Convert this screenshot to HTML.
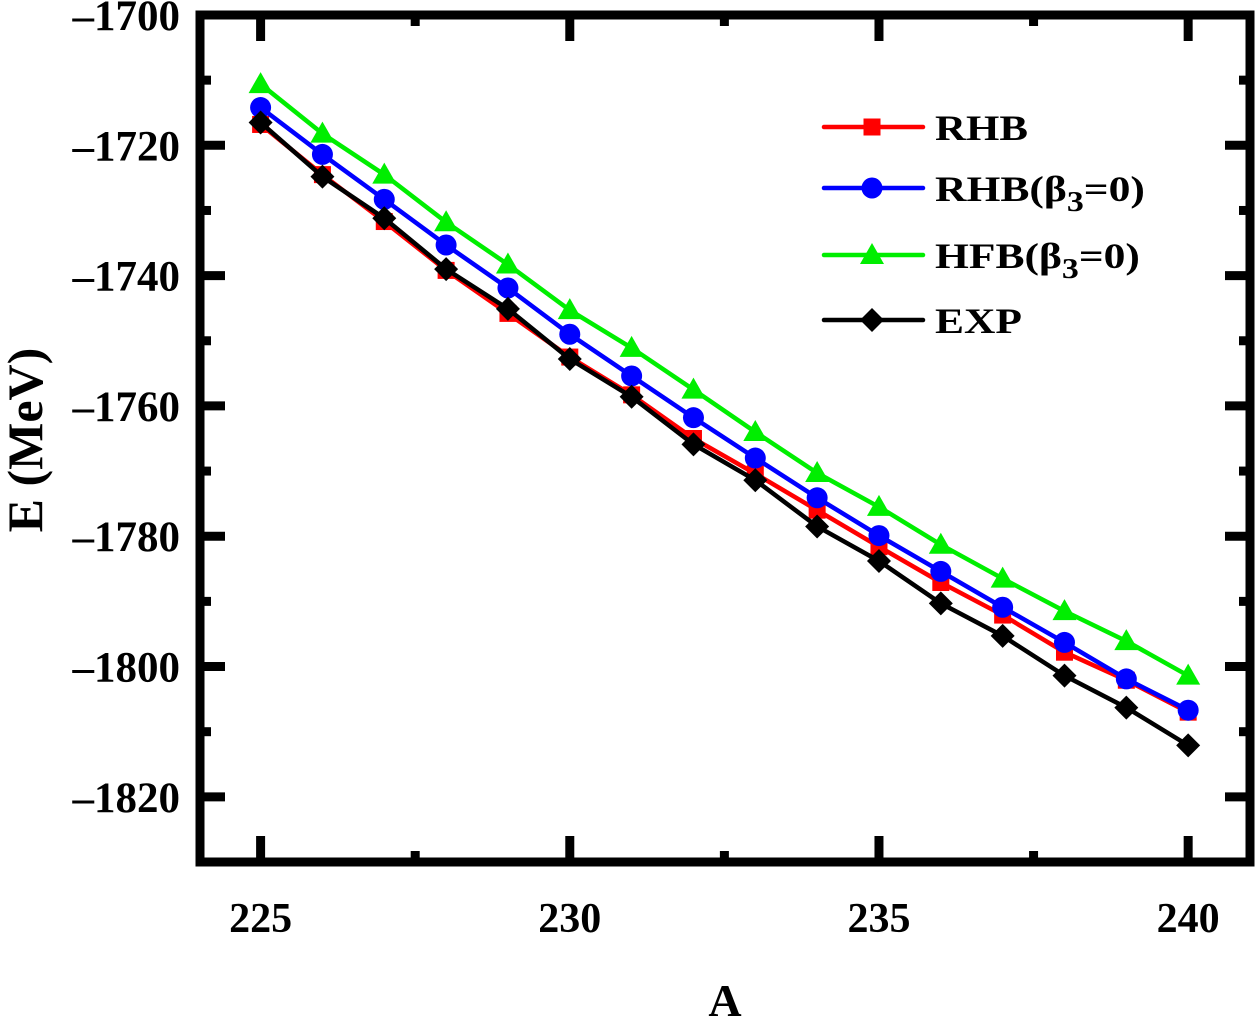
<!DOCTYPE html>
<html><head><meta charset="utf-8"><style>
html,body{margin:0;padding:0;background:#fff;}
svg{display:block;font-family:"Liberation Serif",serif;font-weight:bold;}
</style></head><body>
<svg id="chart" width="1256" height="1020" viewBox="0 0 1256 1020">
<g id="marks"></g>
<g id="axes"></g>
<g id="legend"></g>
<text x="725" y="1016" font-size="46" text-anchor="middle">A</text>
<text transform="translate(42,440) rotate(-90)" font-size="50" text-anchor="middle">E (MeV)</text>
</svg>
<script>
const massNumbers = [225,226,227,228,229,230,231,232,233,234,235,236,237,238,239,240];
const rhbValues = [-1716.8,-1724.5,-1731.7,-1739.2,-1745.8,-1752.5,-1758.3,-1765,-1770.4,-1776,-1781.6,-1787.1,-1792.1,-1797.8,-1802.1,-1807];
const rhbB0Values = [-1714.2,-1721.4,-1728.3,-1735.3,-1741.9,-1749,-1755.4,-1761.8,-1768,-1774.1,-1779.9,-1785.4,-1790.9,-1796.3,-1801.9,-1806.7];
const hfbB0Values = [-1710.6,-1718.2,-1724.5,-1731.8,-1738.3,-1745.3,-1751.1,-1757.5,-1764,-1770.3,-1775.5,-1781.3,-1786.5,-1791.5,-1796.1,-1801.4];
const expValues = [-1716.5,-1724.8,-1731.2,-1739,-1745.1,-1752.8,-1758.6,-1765.9,-1771.4,-1778.5,-1783.8,-1790.3,-1795.3,-1801.4,-1806.3,-1812.1];
const xTickLabels = [225,230,235,240];
const yTickLabels = [-1700,-1720,-1740,-1760,-1780,-1800,-1820];

const NS="http://www.w3.org/2000/svg";
const L=200,R=1250,T=15,B=862;
const xMin=224.02,xMax=241, yMin=-1830,yMax=-1700;
const sx=v=>L+(v-xMin)/(xMax-xMin)*(R-L);
const sy=v=>B-(v-yMin)/(yMax-yMin)*(B-T);
function mk(tag,attrs,parent){const e=document.createElementNS(NS,tag);for(const k in attrs)e.setAttribute(k,attrs[k]);parent.appendChild(e);return e;}
const marks=document.getElementById('marks'),axes=document.getElementById('axes'),legend=document.getElementById('legend');

function marker(type,x,y,color,parent,name){
  let e;
  if(type==='square'){e=mk('rect',{x:x-8.5,y:y-8.5,width:17,height:17,fill:color},parent);}
  else if(type==='circle'){e=mk('circle',{cx:x,cy:y,r:10.5,fill:color},parent);}
  else if(type==='triangle'){e=mk('polygon',{points:`${x},${y-12} ${x+12},${y+9} ${x-12},${y+9}`,fill:color},parent);}
  else {e=mk('polygon',{points:`${x},${y-12} ${x+12},${y} ${x},${y+12} ${x-12},${y}`,fill:color},parent);}
  
  
}
const series=[
 {vals:hfbB0Values,color:'#00ee00',m:'triangle',key:'hfb'},
 {vals:rhbValues,color:'#ff0000',m:'square',key:'rhb'},
 {vals:rhbB0Values,color:'#0000ff',m:'circle',key:'rhb-b3'},
 {vals:expValues,color:'#000000',m:'diamond',key:'exp'}
];
series.forEach(s=>{
  const pts=s.vals.map((v,i)=>sx(massNumbers[i])+','+sy(v)).join(' ');
  const pl=mk('polyline',{points:pts,fill:'none',stroke:s.color,'stroke-width':4.5,'stroke-linejoin':'round'},marks);
  
  
  s.vals.forEach((v,i)=>marker(s.m,sx(massNumbers[i]),sy(v),s.color,marks,s.key+'-point'));
});

const fr=mk('rect',{x:L,y:T,width:R-L,height:B-T,fill:'none',stroke:'#000','stroke-width':9},axes);


for(let v=225;v<=240;v+=2.5){
  const major=(v%5===0), len=major?26:11, x=sx(v);
  mk('line',{x1:x,x2:x,y1:B,y2:B-len,stroke:'#000','stroke-width':9},axes);
  mk('line',{x1:x,x2:x,y1:T,y2:T+len,stroke:'#000','stroke-width':9},axes);
}
xTickLabels.forEach(v=>{
  const t=mk('text',{x:sx(v),y:932,'font-size':42,'text-anchor':'middle'},axes);t.textContent=v;
  
  
});
for(let v=-1820;v<=-1700;v+=10){
  const major=(v%20===0), len=major?25:11, y=sy(v);
  mk('line',{x1:L,x2:L+len,y1:y,y2:y,stroke:'#000','stroke-width':9},axes);
  mk('line',{x1:R,x2:R-len,y1:y,y2:y,stroke:'#000','stroke-width':9},axes);
}
yTickLabels.forEach(v=>{
  const t=mk('text',{x:180,y:sy(v)+15,'font-size':43,'text-anchor':'end'},axes);t.textContent='–'+Math.abs(v);
  
  
});

const leg=[
 {color:'#ff0000',m:'square',y:127,html:'RHB',key:'rhb',w:93},
 {color:'#0000ff',m:'circle',y:188,html:'RHB(β<tspan font-size="28" dy="10">3</tspan><tspan dy="-10">=0)</tspan>',key:'rhb-b3',w:210},
 {color:'#00ee00',m:'triangle',y:255,html:'HFB(β<tspan font-size="28" dy="10">3</tspan><tspan dy="-10">=0)</tspan>',key:'hfb',w:205},
 {color:'#000000',m:'diamond',y:320,html:'EXP',key:'exp',w:87}
];
leg.forEach(l=>{
  const g=mk('g',{},legend);
  
  
  mk('line',{x1:824,x2:923,y1:l.y,y2:l.y,stroke:l.color,'stroke-width':4.5,'stroke-linecap':'round'},g);
  marker(l.m,872,l.y,l.color,g,'legend-marker-'+l.key);
  const t=mk('text',{x:0,y:0,'font-size':36},g);t.innerHTML=l.html;
  
  
  const w=t.getBBox().width||l.w;
  t.setAttribute('transform',`translate(935,${l.y+13}) scale(${l.w/w},1)`);
});
</script>
</body></html>
